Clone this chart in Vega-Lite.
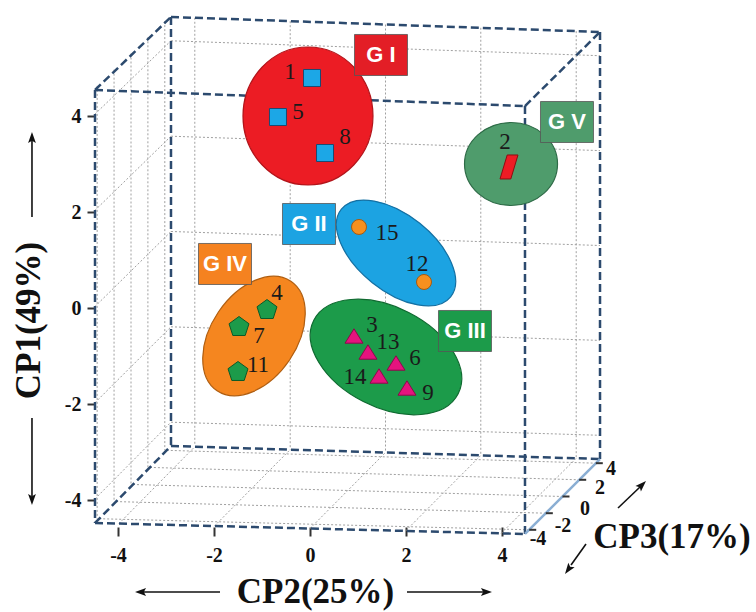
{
  "$schema": "https://vega.github.io/schema/vega-lite/v6.json",
  "width": 756,
  "height": 612,
  "autosize": {"type": "none"},
  "padding": 0,
  "background": "white",
  "config": {"view": {"stroke": null}},
  "datasets": {
    "grid": [
      {"x": -2.4, "y": 6.046, "x2": -2.4, "y2": -2.848},
      {"x": -0.4125, "y": 5.975, "x2": -0.4125, "y2": -2.95},
      {"x": 1.573, "y": 5.906, "x2": 1.573, "y2": -3.01},
      {"x": 3.558, "y": 5.838, "x2": 3.558, "y2": -3.071},
      {"x": 5.546, "y": 5.767, "x2": 5.546, "y2": -3.131},
      {"x": -2.896, "y": 5.567, "x2": 6.042, "y2": 5.256},
      {"x": -2.896, "y": 3.579, "x2": 6.042, "y2": 3.279},
      {"x": -2.896, "y": 1.594, "x2": 6.042, "y2": 1.302},
      {"x": -2.896, "y": -0.392, "x2": 6.042, "y2": -0.675},
      {"x": -2.896, "y": -2.379, "x2": 6.042, "y2": -2.652},
      {"x": -4.479, "y": 4.04, "x2": -2.896, "y2": 5.567},
      {"x": -4.479, "y": 2.035, "x2": -2.896, "y2": 3.579},
      {"x": -4.479, "y": 0.031, "x2": -2.896, "y2": 1.594},
      {"x": -4.479, "y": -1.973, "x2": -2.896, "y2": -0.392},
      {"x": -4.479, "y": -3.977, "x2": -2.896, "y2": -2.379},
      {"x": -4.434, "y": 4.627, "x2": -4.434, "y2": -4.39},
      {"x": -4.082, "y": 4.965, "x2": -4.082, "y2": -4.033},
      {"x": -3.729, "y": 5.302, "x2": -3.729, "y2": -3.677},
      {"x": -3.377, "y": 5.64, "x2": -3.377, "y2": -3.321},
      {"x": -3.025, "y": 5.977, "x2": -3.025, "y2": -2.965},
      {"x": -3.981, "y": -4.492, "x2": -2.4, "y2": -2.89},
      {"x": -1.992, "y": -4.544, "x2": -0.4125, "y2": -2.95},
      {"x": 0, "y": -4.594, "x2": 1.573, "y2": -3.01},
      {"x": 1.992, "y": -4.644, "x2": 3.558, "y2": -3.071},
      {"x": 3.981, "y": -4.696, "x2": 5.546, "y2": -3.131},
      {"x": -4.392, "y": -4.39, "x2": 4.567, "y2": -4.621},
      {"x": -4.04, "y": -4.033, "x2": 4.913, "y2": -4.275},
      {"x": -3.6875, "y": -3.677, "x2": 5.26, "y2": -3.927},
      {"x": -3.335, "y": -3.321, "x2": 5.608, "y2": -3.579},
      {"x": -2.983, "y": -2.965, "x2": 5.954, "y2": -3.233}
    ],
    "edges": [
      {"x": -4.479, "y": 4.542, "x2": 4.479, "y2": 4.208},
      {"x": 4.479, "y": 4.208, "x2": 4.479, "y2": -4.708},
      {"x": -4.479, "y": -4.479, "x2": 4.479, "y2": -4.708},
      {"x": -4.479, "y": 4.542, "x2": -4.479, "y2": -4.479},
      {"x": -2.896, "y": 6.063, "x2": 6.042, "y2": 5.75},
      {"x": 6.042, "y": 5.75, "x2": 6.042, "y2": -3.146},
      {"x": -2.896, "y": 6.063, "x2": -2.896, "y2": -2.875},
      {"x": -2.896, "y": -2.875, "x2": 6.042, "y2": -3.146},
      {"x": -4.479, "y": 4.542, "x2": -2.896, "y2": 6.063},
      {"x": 4.479, "y": 4.208, "x2": 6.042, "y2": 5.75},
      {"x": -4.479, "y": -4.479, "x2": -2.896, "y2": -2.875}
    ],
    "cp3edge": [
      {"x": 4.479, "y": -4.708, "x2": 6.042, "y2": -3.146}
    ],
    "cp3ticks": [
      {"x": 5.954, "y": -3.233, "x2": 6.1, "y2": -3.233},
      {"x": 5.608, "y": -3.579, "x2": 5.754, "y2": -3.579},
      {"x": 5.26, "y": -3.927, "x2": 5.406, "y2": -3.927},
      {"x": 4.913, "y": -4.275, "x2": 5.059, "y2": -4.275},
      {"x": 4.567, "y": -4.621, "x2": 4.713, "y2": -4.621}
    ],
    "cp3labels": [
      {"label": "4", "x": 6.271, "y": -3.354},
      {"label": "2", "x": 6.042, "y": -3.75},
      {"label": "0", "x": 5.729, "y": -4.188},
      {"label": "-2", "x": 5.271, "y": -4.542},
      {"label": "-4", "x": 4.75, "y": -4.813}
    ],
    "shafts": [
      {"x": -5.792, "y": 1.896, "x2": -5.792, "y2": 3.5},
      {"x": -5.792, "y": -2.292, "x2": -5.792, "y2": -3.917},
      {"x": -1.875, "y": -5.917, "x2": -3.479, "y2": -5.917},
      {"x": 2.021, "y": -5.917, "x2": 3.604, "y2": -5.917},
      {"x": 6.417, "y": -4.167, "x2": 6.875, "y2": -3.729},
      {"x": 5.75, "y": -4.917, "x2": 5.438, "y2": -5.354}
    ],
    "heads": [
      {"dir": "up", "x": -5.792, "y": 3.531},
      {"dir": "down", "x": -5.792, "y": -3.969},
      {"dir": "left", "x": -3.51, "y": -5.917},
      {"dir": "right", "x": 3.656, "y": -5.917},
      {"dir": "upright", "x": 6.904, "y": -3.7},
      {"dir": "downleft", "x": 5.392, "y": -5.431}
    ],
    "titles": [
      {"label": "CP3(17%)", "x": 7.542, "y": -4.771}
    ],
    "groups": [
      {"grp": "G I", "x": -0.042, "y": 4.0},
      {"grp": "G II", "x": 1.792, "y": 1.146},
      {"grp": "G III", "x": 1.583, "y": -1.021},
      {"grp": "G IV", "x": -1.167, "y": -0.583},
      {"grp": "G V", "x": 4.188, "y": 3.0}
    ],
    "boxes": [
      {"grp": "G I", "x": 1.479, "y": 5.271},
      {"grp": "G II", "x": -0.021, "y": 1.75},
      {"grp": "G III", "x": 3.229, "y": -0.479},
      {"grp": "G IV", "x": -1.771, "y": 0.917},
      {"grp": "G V", "x": 5.354, "y": 3.875}
    ],
    "points": [
      {"id": "1", "grp": "G I", "x": 0.042, "y": 4.792},
      {"id": "5", "grp": "G I", "x": -0.667, "y": 3.979},
      {"id": "8", "grp": "G I", "x": 0.313, "y": 3.229},
      {"id": "15", "grp": "G II", "x": 1.021, "y": 1.688},
      {"id": "12", "grp": "G II", "x": 2.375, "y": 0.542},
      {"id": "3", "grp": "G III", "x": 0.917, "y": -0.583},
      {"id": "13", "grp": "G III", "x": 1.208, "y": -0.917},
      {"id": "6", "grp": "G III", "x": 1.792, "y": -1.146},
      {"id": "14", "grp": "G III", "x": 1.438, "y": -1.417},
      {"id": "9", "grp": "G III", "x": 2.021, "y": -1.667},
      {"id": "4", "grp": "G IV", "x": -0.896, "y": -0.042},
      {"id": "7", "grp": "G IV", "x": -1.479, "y": -0.396},
      {"id": "11", "grp": "G IV", "x": -1.5, "y": -1.333},
      {"id": "2", "grp": "G V", "x": 4.146, "y": 2.938}
    ],
    "labels": [
      {"id": "1", "x": -0.417, "y": 4.917},
      {"id": "5", "x": -0.25, "y": 4.083},
      {"id": "8", "x": 0.729, "y": 3.563},
      {"id": "15", "x": 1.604, "y": 1.563},
      {"id": "12", "x": 2.229, "y": 0.917},
      {"id": "3", "x": 1.292, "y": -0.354},
      {"id": "13", "x": 1.625, "y": -0.708},
      {"id": "6", "x": 2.188, "y": -1.042},
      {"id": "14", "x": 0.938, "y": -1.438},
      {"id": "9", "x": 2.458, "y": -1.771},
      {"id": "4", "x": -0.688, "y": 0.313},
      {"id": "7", "x": -1.063, "y": -0.583},
      {"id": "11", "x": -1.083, "y": -1.188},
      {"id": "2", "x": 4.063, "y": 3.458}
    ]
  },
  "encoding": {
    "x": {
      "field": "x", "type": "quantitative",
      "scale": {"domain": [-6.4583, 9.2917], "nice": false, "zero": false},
      "axis": {
        "orient": "bottom", "offset": -85, "values": [-4, -2, 0, 2, 4],
        "domain": false, "grid": false, "tickSize": 9, "tickWidth": 2, "tickColor": "#333",
        "labelFont": "Liberation Serif", "labelFontWeight": "bold", "labelFontSize": 20,
        "labelColor": "#111", "labelPadding": 9, "labelExpr": "'' + datum.value",
        "title": "CP2(25%)", "titleFont": "Liberation Serif", "titleFontWeight": "bold",
        "titleFontSize": 35, "titleColor": "#111", "titleX": 315, "titleY": 64,
        "titleAlign": "center", "titleBaseline": "middle"
      }
    },
    "y": {
      "field": "y", "type": "quantitative",
      "scale": {"domain": [-6.3333, 6.4167], "nice": false, "zero": false},
      "axis": {
        "orient": "left", "offset": -95, "values": [-4, -2, 0, 2, 4],
        "domain": false, "grid": false, "tickSize": 8, "tickWidth": 2, "tickColor": "#333",
        "labelFont": "Liberation Serif", "labelFontWeight": "bold", "labelFontSize": 20,
        "labelColor": "#111", "labelPadding": 6, "labelExpr": "'' + datum.value",
        "title": "CP1(49%)", "titleFont": "Liberation Serif", "titleFontWeight": "bold",
        "titleFontSize": 35, "titleColor": "#111", "titleX": -67, "titleY": 320,
        "titleAngle": 270, "titleAlign": "center", "titleBaseline": "middle"
      }
    }
  },
  "layer": [
    {
      "data": {"name": "grid"},
      "mark": {"type": "rule", "color": "#a0a0a0", "strokeWidth": 1, "strokeDash": [2, 2]},
      "encoding": {"x2": {"field": "x2"}, "y2": {"field": "y2"}}
    },
    {
      "data": {"name": "edges"},
      "mark": {"type": "rule", "color": "#2c4a6e", "strokeWidth": 2.5, "strokeDash": [8, 4]},
      "encoding": {"x2": {"field": "x2"}, "y2": {"field": "y2"}}
    },
    {
      "data": {"name": "cp3edge"},
      "mark": {"type": "rule", "color": "#8aaed3", "strokeWidth": 2.5},
      "encoding": {"x2": {"field": "x2"}, "y2": {"field": "y2"}}
    },
    {
      "data": {"name": "cp3ticks"},
      "mark": {"type": "rule", "color": "#333", "strokeWidth": 2},
      "encoding": {"x2": {"field": "x2"}, "y2": {"field": "y2"}}
    },
    {
      "data": {"name": "shafts"},
      "mark": {"type": "rule", "color": "#111", "strokeWidth": 1.6},
      "encoding": {"x2": {"field": "x2"}, "y2": {"field": "y2"}}
    },
    {
      "data": {"name": "heads"},
      "transform": [{"filter": "datum.dir == 'up'"}],
      "mark": {"type": "point", "shape": "M0,-1 L0.6,0.7 L0,0.35 L-0.6,0.7 Z", "size": 169, "filled": true, "fill": "#111", "strokeWidth": 0, "opacity": 1, "angle": 0}
    },
    {
      "data": {"name": "heads"},
      "transform": [{"filter": "datum.dir == 'down'"}],
      "mark": {"type": "point", "shape": "M0,-1 L0.6,0.7 L0,0.35 L-0.6,0.7 Z", "size": 169, "filled": true, "fill": "#111", "strokeWidth": 0, "opacity": 1, "angle": 180}
    },
    {
      "data": {"name": "heads"},
      "transform": [{"filter": "datum.dir == 'left'"}],
      "mark": {"type": "point", "shape": "M0,-1 L0.6,0.7 L0,0.35 L-0.6,0.7 Z", "size": 169, "filled": true, "fill": "#111", "strokeWidth": 0, "opacity": 1, "angle": 270}
    },
    {
      "data": {"name": "heads"},
      "transform": [{"filter": "datum.dir == 'right'"}],
      "mark": {"type": "point", "shape": "M0,-1 L0.6,0.7 L0,0.35 L-0.6,0.7 Z", "size": 169, "filled": true, "fill": "#111", "strokeWidth": 0, "opacity": 1, "angle": 90}
    },
    {
      "data": {"name": "heads"},
      "transform": [{"filter": "datum.dir == 'upright'"}],
      "mark": {"type": "point", "shape": "M0,-1 L0.6,0.7 L0,0.35 L-0.6,0.7 Z", "size": 169, "filled": true, "fill": "#111", "strokeWidth": 0, "opacity": 1, "angle": 45}
    },
    {
      "data": {"name": "heads"},
      "transform": [{"filter": "datum.dir == 'downleft'"}],
      "mark": {"type": "point", "shape": "M0,-1 L0.6,0.7 L0,0.35 L-0.6,0.7 Z", "size": 169, "filled": true, "fill": "#111", "strokeWidth": 0, "opacity": 1, "angle": 216}
    },
    {
      "data": {"name": "groups"},
      "transform": [{"filter": "datum.grp == 'G I'"}],
      "mark": {"type": "point", "shape": "M0.942,0 C0.942,0.552 0.52,1 0,1 C-0.52,1 -0.942,0.552 -0.942,0 C-0.942,-0.552 -0.52,-1 0,-1 C0.52,-1 0.942,-0.552 0.942,0 Z", "size": 19044, "filled": true, "fill": "#ec1c24", "stroke": "#b3141a", "strokeWidth": 1.2, "opacity": 1}
    },
    {
      "data": {"name": "groups"},
      "transform": [{"filter": "datum.grp == 'G II'"}],
      "mark": {"type": "point", "shape": "M1,0 C1,0.3 0.552,0.543 0,0.543 C-0.552,0.543 -1,0.3 -1,0 C-1,-0.3 -0.552,-0.543 0,-0.543 C0.552,-0.543 1,-0.3 1,0 Z", "size": 19600, "angle": 38.7, "filled": true, "fill": "#1ca3e2", "stroke": "#1470a3", "strokeWidth": 1.2, "opacity": 1}
    },
    {
      "data": {"name": "groups"},
      "transform": [{"filter": "datum.grp == 'G III'"}],
      "mark": {"type": "point", "shape": "M1,0 C1,0.341 0.552,0.617 0,0.617 C-0.552,0.617 -1,0.341 -1,0 C-1,-0.341 -0.552,-0.617 0,-0.617 C0.552,-0.617 1,-0.341 1,0 Z", "size": 26244, "angle": 27, "filled": true, "fill": "#1c9b4a", "stroke": "#0f6a30", "strokeWidth": 1.2, "opacity": 1}
    },
    {
      "data": {"name": "groups"},
      "transform": [{"filter": "datum.grp == 'G IV'"}],
      "mark": {"type": "point", "shape": "M1,0 C1,0.359 0.552,0.65 0,0.65 C-0.552,0.65 -1,0.359 -1,0 C-1,-0.359 -0.552,-0.65 0,-0.65 C0.552,-0.65 1,-0.359 1,0 Z", "size": 17424, "angle": 304, "filled": true, "fill": "#f5861f", "stroke": "#b05e10", "strokeWidth": 1.2, "opacity": 1}
    },
    {
      "data": {"name": "groups"},
      "transform": [{"filter": "datum.grp == 'G V'"}],
      "mark": {"type": "point", "shape": "M1,0 C1,0.493 0.552,0.892 0,0.892 C-0.552,0.892 -1,0.493 -1,0 C-1,-0.493 -0.552,-0.892 0,-0.892 C0.552,-0.892 1,-0.493 1,0 Z", "size": 8649, "filled": true, "fill": "#4f9c6c", "stroke": "#2e6b47", "strokeWidth": 1.2, "opacity": 1}
    },
    {
      "data": {"name": "boxes"},
      "mark": {"type": "point", "shape": "M-1,-0.774 L1,-0.774 L1,0.774 L-1,0.774 Z", "size": 2809, "filled": true, "stroke": "#555", "strokeWidth": 0.8, "opacity": 1},
      "encoding": {
        "fill": {"field": "grp", "type": "nominal", "legend": null,
          "scale": {"domain": ["G I", "G II", "G III", "G IV", "G V"], "range": ["#e31e26", "#1ca3e2", "#1c9b4a", "#f58220", "#4f9c6c"]}}
      }
    },
    {
      "data": {"name": "boxes"},
      "mark": {"type": "text", "font": "Liberation Sans", "fontWeight": "bold", "fontSize": 22, "color": "#ffffff", "align": "center", "baseline": "middle"},
      "encoding": {"text": {"field": "grp"}}
    },
    {
      "data": {"name": "points"},
      "transform": [{"filter": "datum.grp == 'G I'"}],
      "mark": {"type": "point", "shape": "square", "size": 289, "filled": true, "fill": "#1ca7e6", "stroke": "#1b4a73", "strokeWidth": 1, "opacity": 1}
    },
    {
      "data": {"name": "points"},
      "transform": [{"filter": "datum.grp == 'G II'"}],
      "mark": {"type": "point", "shape": "circle", "size": 225, "filled": true, "fill": "#f7901e", "stroke": "#a65a10", "strokeWidth": 1, "opacity": 1}
    },
    {
      "data": {"name": "points"},
      "transform": [{"filter": "datum.grp == 'G III'"}],
      "mark": {"type": "point", "shape": "M0,-0.8 L1,0.8 L-1,0.8 Z", "size": 324, "filled": true, "fill": "#e5137e", "stroke": "#8b0a4a", "strokeWidth": 1, "opacity": 1}
    },
    {
      "data": {"name": "points"},
      "transform": [{"filter": "datum.grp == 'G IV'"}],
      "mark": {"type": "point", "shape": "M0,-1 L0.951,-0.309 L0.588,0.809 L-0.588,0.809 L-0.951,-0.309 Z", "size": 441, "filled": true, "fill": "#1c9b4a", "stroke": "#0b5a28", "strokeWidth": 1, "opacity": 1}
    },
    {
      "data": {"name": "points"},
      "transform": [{"filter": "datum.grp == 'G V'"}],
      "mark": {"type": "point", "shape": "M-0.15,-1 L0.75,-1 L0.15,1 L-0.75,1 Z", "size": 576, "filled": true, "fill": "#ee1c25", "stroke": "#8b0f12", "strokeWidth": 1, "opacity": 1}
    },
    {
      "data": {"name": "labels"},
      "mark": {"type": "text", "font": "Liberation Serif", "fontSize": 23, "color": "#1a1a1a", "align": "center", "baseline": "middle"},
      "encoding": {"text": {"field": "id"}}
    },
    {
      "data": {"name": "cp3labels"},
      "mark": {"type": "text", "font": "Liberation Serif", "fontWeight": "bold", "fontSize": 20, "color": "#111", "align": "center", "baseline": "middle"},
      "encoding": {"text": {"field": "label"}}
    },
    {
      "data": {"name": "titles"},
      "mark": {"type": "text", "font": "Liberation Serif", "fontWeight": "bold", "fontSize": 35, "color": "#111", "align": "center", "baseline": "middle"},
      "encoding": {"text": {"field": "label"}}
    }
  ]
}
